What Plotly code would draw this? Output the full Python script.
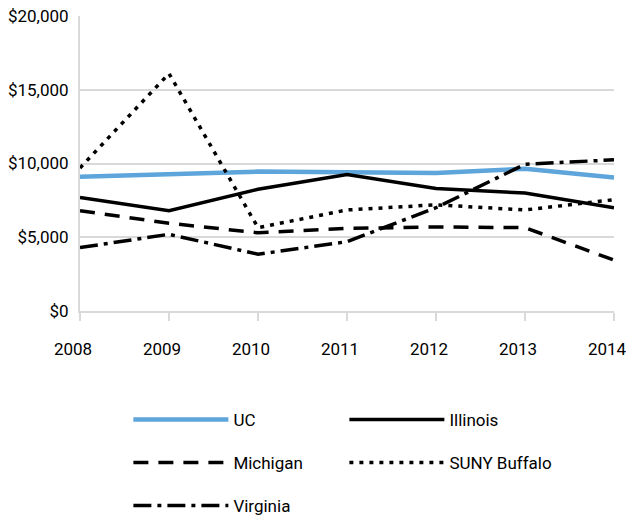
import plotly.graph_objects as go

years = [2008, 2009, 2010, 2011, 2012, 2013, 2014]
uc = [9100, 9300, 9450, 9400, 9350, 9650, 9050]
illinois = [7700, 6800, 8250, 9250, 8300, 8000, 7000]
michigan = [6800, 5950, 5300, 5600, 5700, 5650, 3450]
suny_buffalo = [9700, 16100, 5650, 6850, 7200, 6850, 7550]
virginia = [4300, 5200, 3850, 4700, 7000, 9950, 10250]

y_ticks = [0, 5000, 10000, 15000, 20000]
y_tick_labels = ["$0", "$5,000", "$10,000", "$15,000", "$20,000"]

FONT = "Roboto, Liberation Sans Narrow, sans-serif"
FS = 17

fig = go.Figure()
series = [
    ("UC", uc, dict(color="#5DA5DA", width=4.5, dash="solid"), "legend"),
    ("Illinois", illinois, dict(color="#000000", width=3.5, dash="solid"), "legend"),
    ("Michigan", michigan, dict(color="#000000", width=3.5, dash="15px,10px"), "legend2"),
    ("SUNY Buffalo", suny_buffalo, dict(color="#000000", width=3.5, dash="4px,6px"), "legend2"),
    ("Virginia", virginia, dict(color="#000000", width=3.5, dash="18px,6px,4px,6px"), "legend3"),
]
for name, vals, line, lg in series:
    fig.add_trace(go.Scatter(x=years, y=vals, mode="lines", name=name, line=line, legend=lg))

def leg(yc):
    return dict(
        orientation="h", x=0.0906, xanchor="left", y=yc, yanchor="middle",
        entrywidth=106, entrywidthmode="pixels", itemwidth=95,
        font=dict(family=FONT, size=FS, color="#000000"),
        bgcolor="rgba(0,0,0,0)", borderwidth=0,
    )

fig.update_layout(
    width=626, height=521,
    margin=dict(l=80, r=12, t=16, b=210, autoexpand=False),
    paper_bgcolor="white", plot_bgcolor="white",
    font=dict(family=FONT, size=FS, color="#000000"),
    showlegend=True,
    legend=leg(-0.3695),
    legend2=leg(-0.515),
    legend3=leg(-0.661),
    xaxis=dict(
        range=[2008, 2014], tickmode="array", tickvals=years,
        ticktext=[str(y) for y in years],
        showgrid=False, showline=True, linecolor="#d9d9d9", linewidth=2,
        ticks="outside", ticklen=8, tickcolor="#d9d9d9", tickwidth=2,
        ticklabelstandoff=14, ticklabelshift=-7, zeroline=False, automargin=False,
        ticklabeloverflow="allow",
        tickfont=dict(family=FONT, size=FS),
    ),
    yaxis=dict(
        range=[0, 20000], tickmode="array", tickvals=y_ticks, ticktext=y_tick_labels,
        showgrid=True, gridcolor="#d9d9d9", gridwidth=2,
        showline=True, linecolor="#d9d9d9", linewidth=2,
        zeroline=False, ticks="", ticklabelstandoff=6, automargin=False,
        tickfont=dict(family=FONT, size=FS),
    ),
)

fig.write_html("out.html", config={"displayModeBar": False},
               post_script="document.body.style.margin='0';")
